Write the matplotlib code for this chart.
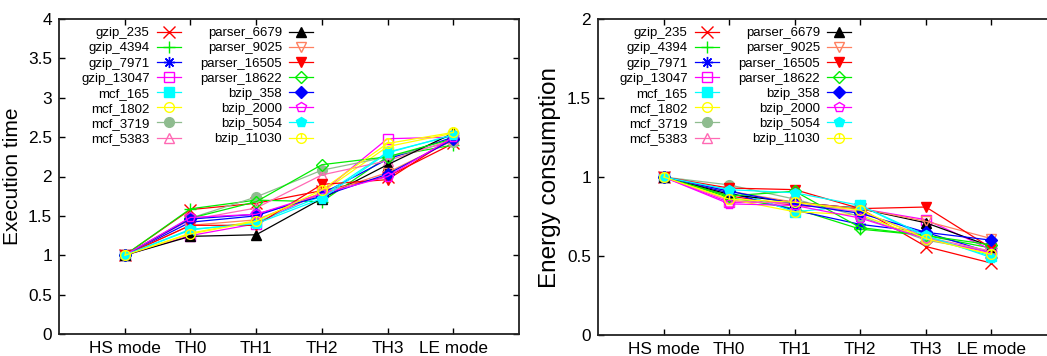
import numpy as np
import matplotlib
matplotlib.use('Agg')
import matplotlib.pyplot as plt
from matplotlib.path import Path

plt.rcParams['font.family'] = ['Liberation Sans', 'DejaVu Sans']

# datos
modos = ['HS mode', 'TH0', 'TH1', 'TH2', 'TH3', 'LE mode']
nombres = ['gzip_235', 'gzip_4394', 'gzip_7971', 'gzip_13047',
           'mcf_165', 'mcf_1802', 'mcf_3719', 'mcf_5383',
           'parser_6679', 'parser_9025', 'parser_16505', 'parser_18622',
           'bzip_358', 'bzip_2000', 'bzip_5054', 'bzip_11030']

tiempo = [
    [1, 1.58, 1.66, 1.82, 2.00, 2.42],
    [1, 1.59, 1.70, 1.68, 2.25, 2.40],
    [1, 1.42, 1.50, 1.78, 2.22, 2.50],
    [1, 1.25, 1.40, 1.80, 2.48, 2.50],
    [1, 1.32, 1.42, 1.75, 2.31, 2.52],
    [1, 1.28, 1.44, 1.80, 2.38, 2.55],
    [1, 1.47, 1.74, 2.08, 2.25, 2.44],
    [1, 1.45, 1.60, 2.02, 2.20, 2.47],
    [1, 1.24, 1.26, 1.72, 2.15, 2.55],
    [1, 1.38, 1.45, 1.78, 2.05, 2.46],
    [1, 1.38, 1.38, 1.90, 1.96, 2.50],
    [1, 1.47, 1.68, 2.15, 2.25, 2.48],
    [1, 1.46, 1.52, 1.75, 2.03, 2.47],
    [1, 1.48, 1.52, 1.78, 2.00, 2.50],
    [1, 1.33, 1.40, 1.72, 2.30, 2.53],
    [1, 1.27, 1.43, 1.83, 2.42, 2.56],
]

energia = [
    [1, 0.88, 0.82, 0.80, 0.56, 0.455],
    [1, 0.87, 0.80, 0.67, 0.63, 0.55],
    [1, 0.90, 0.79, 0.70, 0.65, 0.52],
    [1, 0.84, 0.84, 0.80, 0.73, 0.54],
    [1, 0.92, 0.78, 0.82, 0.62, 0.50],
    [1, 0.86, 0.78, 0.76, 0.61, 0.51],
    [1, 0.95, 0.86, 0.75, 0.60, 0.53],
    [1, 0.85, 0.83, 0.78, 0.62, 0.53],
    [1, 0.89, 0.84, 0.80, 0.71, 0.56],
    [1, 0.91, 0.84, 0.80, 0.72, 0.61],
    [1, 0.93, 0.92, 0.80, 0.81, 0.55],
    [1, 0.88, 0.91, 0.68, 0.63, 0.57],
    [1, 0.91, 0.83, 0.77, 0.65, 0.60],
    [1, 0.83, 0.82, 0.74, 0.61, 0.52],
    [1, 0.92, 0.90, 0.82, 0.63, 0.49],
    [1, 0.86, 0.84, 0.79, 0.61, 0.51],
]

# estilos tipo gnuplot
circulo_raya = Path.make_compound_path(
    Path.unit_circle(), Path([(0, 0), (0, 1)], [Path.MOVETO, Path.LINETO]))

colores = ['#ff0000', '#00ee00', '#0000ff', '#ff00ff',
           '#00ffff', '#ffff00', '#8fbc8f', '#ff69b4',
           '#000000', '#ff8060', '#ff0000', '#00ee00',
           '#0000ff', '#ff00ff', '#00ffff', '#ffff00']
marcas = ['x', '+', (8, 2, 0), 's', 's', 'o', 'o', '^',
          '^', 'v', 'v', 'D', 'D', 'p', 'p', circulo_raya]
llenas = [True, True, True, False, True, False, True, False,
          True, False, True, False, True, False, True, False]

x = np.arange(1, len(modos) + 1)

fig = plt.figure(figsize=(10.47, 3.56), dpi=100)
ax1 = fig.add_axes([59/1047, 22/356, 460/1047, 315/356])
ax2 = fig.add_axes([598/1047, 21/356, 459/1047, 316/356])


def graficar(ax, datos, ymax, yticks, etiqueta, tam_et, xleg):
    for i in range(len(nombres)):
        c = colores[i]
        tam = 6 if marcas[i] == 'D' else 7
        if marcas[i] in ('x', '+', (8, 2, 0)):
            tam = 8
        ax.plot(x, datos[i], color=c, lw=0.9, marker=marcas[i],
                markersize=tam, markeredgewidth=1.0,
                markerfacecolor=c if llenas[i] else 'none',
                markeredgecolor=c, label=nombres[i])
    ax.set_xlim(0, 7)
    ax.set_ylim(0, ymax)
    ax.set_xticks(x)
    ax.set_xticklabels(modos)
    ax.set_yticks(yticks)
    ax.set_yticklabels([('%g' % v) for v in yticks])
    ax.tick_params(direction='in', length=4, width=1, labelsize=12.4,
                   top=True, right=True, pad=5)
    for s in ax.spines.values():
        s.set_linewidth(1.3)
        s.set_color('#222222')
    ax.set_ylabel(etiqueta, fontsize=tam_et, labelpad=4)
    leg = ax.legend(ncol=2, loc='upper left', frameon=False,
                    markerfirst=False, fontsize=9.5, labelspacing=0.22,
                    handlelength=1.85, handletextpad=0.54, columnspacing=1.45,
                    borderpad=0, borderaxespad=0,
                    bbox_to_anchor=(xleg, 1 - 27/356),
                    bbox_transform=fig.transFigure)
    return leg


graficar(ax1, tiempo, 4, [0, 0.5, 1, 1.5, 2, 2.5, 3, 3.5, 4],
         'Execution time', 15, 81/1047)
graficar(ax2, energia, 2, [0, 0.5, 1, 1.5, 2],
         'Energy consumption', 17.5, 619/1047)

fig.savefig('out.png', dpi=100)
